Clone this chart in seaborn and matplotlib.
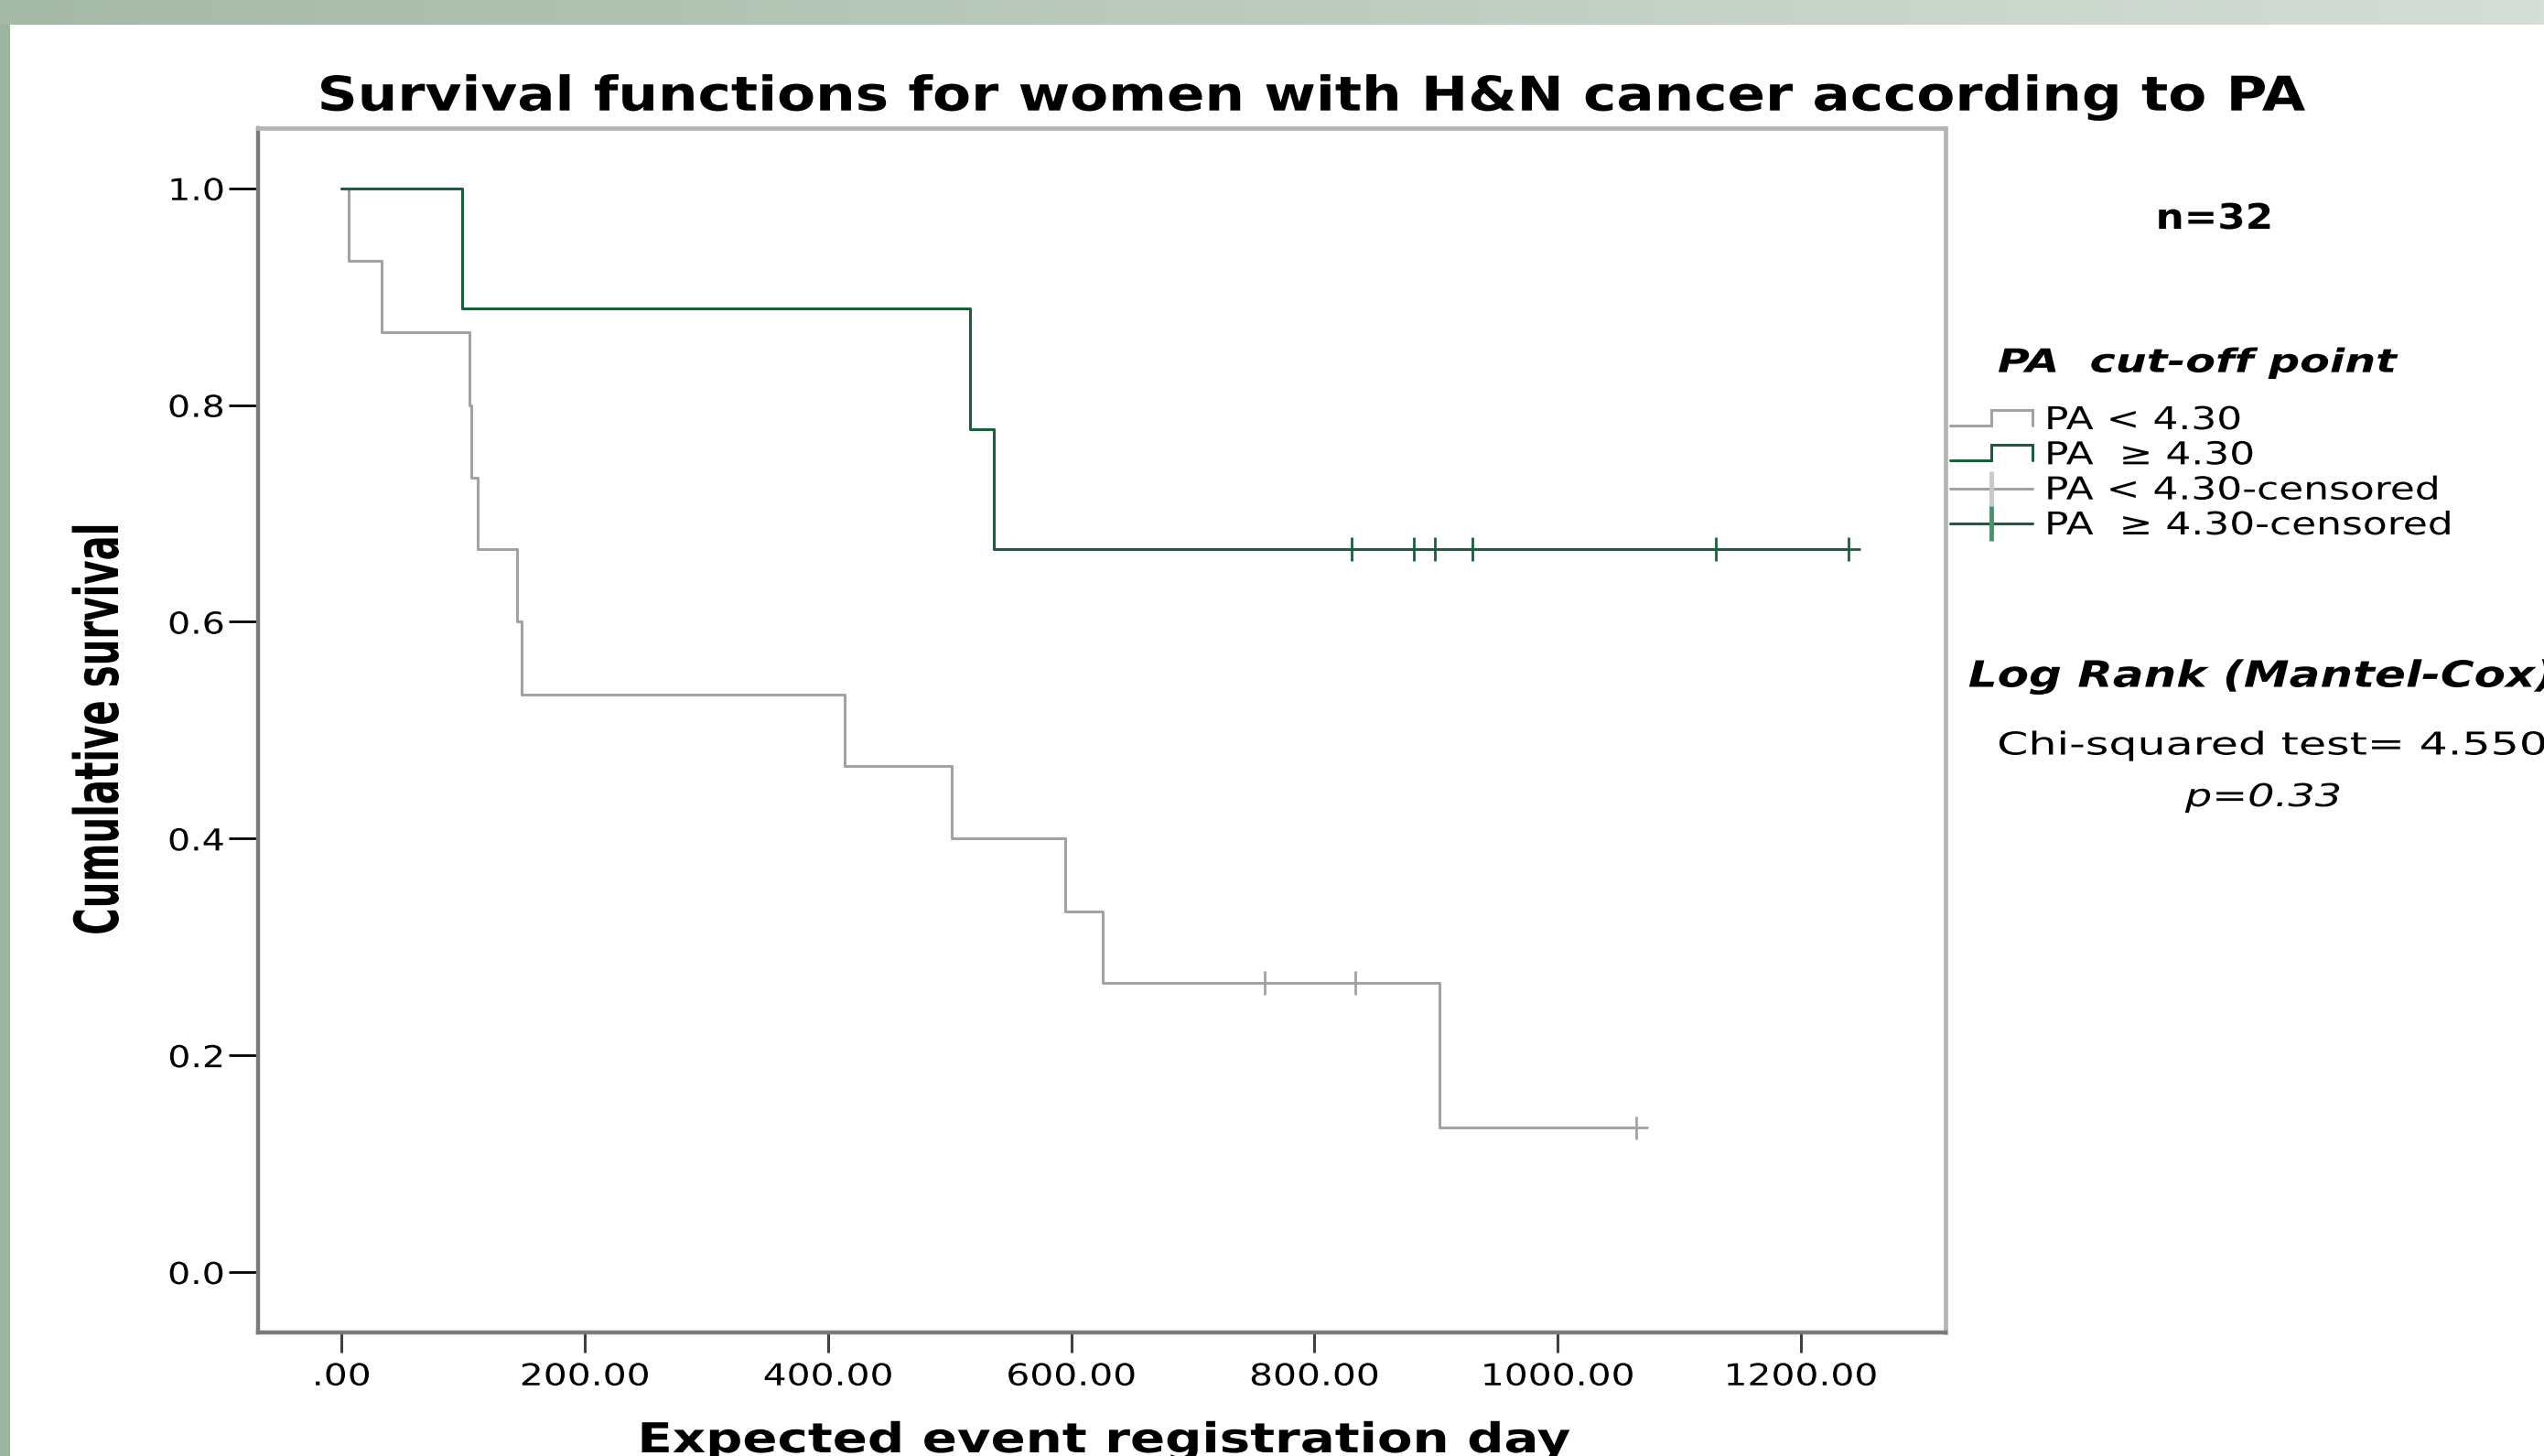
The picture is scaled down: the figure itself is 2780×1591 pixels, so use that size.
import numpy as np
import pandas as pd
import matplotlib
matplotlib.use("Agg")
import matplotlib.pyplot as plt
import matplotlib.patheffects as pe
from matplotlib.transforms import Affine2D
from matplotlib.lines import Line2D
from matplotlib.legend_handler import HandlerBase
from matplotlib.patches import Rectangle
import seaborn as sns

# Kaplan-Meier steps: day of each drop and survival after it
low_days = [0, 6, 33, 105, 107, 112, 144, 148, 414, 502, 595, 626, 903, 1065]
low_surv = [1.0, 0.933, 0.867, 0.800, 0.733, 0.667, 0.600, 0.533, 0.467, 0.400,
            0.333, 0.267, 0.133, 0.133]
high_days = [0, 99, 517, 536, 1239]
high_surv = [1.0, 0.889, 0.778, 0.667, 0.667]

# censored cases
low_cens_days = [759, 834, 1065]
low_cens_surv = [0.267, 0.267, 0.133]
high_cens_days = [831, 882, 899, 930, 1130, 1239]
high_cens_surv = [0.667, 0.667, 0.667, 0.667, 0.667, 0.667]

groups = ["PA < 4.30", "PA  \u2265 4.30"]
legend_labels = ["PA < 4.30", "PA  \u2265 4.30",
                 "PA < 4.30-censored", "PA  \u2265 4.30-censored"]
x_ticks = [0, 200, 400, 600, 800, 1000, 1200]
x_tick_labels = [".00", "200.00", "400.00", "600.00", "800.00", "1000.00", "1200.00"]
y_ticks = [0.0, 0.2, 0.4, 0.6, 0.8, 1.0]
y_tick_labels = ["0.0", "0.2", "0.4", "0.6", "0.8", "1.0"]

GRAY = "#a2a2a2"
GREEN = "#17603b"
palette = {groups[0]: GRAY, groups[1]: GREEN}

W, H = 2780, 1591


class Stretch(pe.AbstractPathEffect):
    """Scale the glyphs of a text in its own frame (the source image is stretched)."""

    def __init__(self, sx=1.0, sy=1.0, anchor="center"):
        super().__init__()
        self.sx, self.sy, self.anchor = sx, sy, anchor

    def draw_path(self, renderer, gc, tpath, affine, rgbFace=None):
        ext = tpath.get_extents()
        x0 = {"left": ext.x0, "center": (ext.x0 + ext.x1) / 2, "right": ext.x1}[self.anchor]
        t = Affine2D().translate(-x0, 0).scale(self.sx, self.sy).translate(x0, 0) + affine
        renderer.draw_path(gc, tpath, t, rgbFace)


class StepHandler(HandlerBase):
    def create_artists(self, legend, orig_handle, xdescent, ydescent,
                       width, height, fontsize, trans):
        mid = (height - ydescent) / 2
        lo, hi = mid - 0.22 * fontsize, mid + 0.26 * fontsize
        x0 = -xdescent
        xs = [x0, x0 + 0.5 * width, x0 + 0.5 * width, x0 + width, x0 + width]
        ys = [lo, lo, hi, hi, lo]
        line = Line2D(xs, ys, color=orig_handle.get_color(),
                      lw=orig_handle.get_linewidth(), solid_joinstyle="miter")
        line.set_transform(trans)
        return [line]


sns.set_style("white")
plt.rcParams["font.family"] = ["DejaVu Sans"]
plt.rcParams["text.color"] = "black"
plt.rcParams["axes.labelcolor"] = "black"
plt.rcParams["xtick.labelcolor"] = "black"
plt.rcParams["ytick.labelcolor"] = "black"

fig = plt.figure(figsize=(W / 100, H / 100), dpi=100, facecolor="white")

# slide background bands
band = fig.add_axes([0, 1 - 27 / H, 1, 27 / H])
grad = np.linspace(0, 1, 256)[None, :]
band.imshow(grad, aspect="auto",
            cmap=matplotlib.colors.LinearSegmentedColormap.from_list("b", ["#a5b9a7", "#d5ded7"]))
band.set_axis_off()
fig.patches.append(Rectangle((0, 0), 11 / W, 1 - 27 / H, transform=fig.transFigure,
                             facecolor="#9cb59f", edgecolor="none"))

ax = fig.add_axes([282 / W, (H - 1455.5) / H, (2126 - 282) / W, (1455.5 - 140) / H])
ax.set_facecolor("white")

curve_df = pd.concat([
    pd.DataFrame({"day": low_days, "survival": low_surv, "group": groups[0]}),
    pd.DataFrame({"day": high_days, "survival": high_surv, "group": groups[1]}),
], ignore_index=True)
cens_df = pd.concat([
    pd.DataFrame({"day": low_cens_days, "survival": low_cens_surv, "group": groups[0]}),
    pd.DataFrame({"day": high_cens_days, "survival": high_cens_surv, "group": groups[1]}),
], ignore_index=True)

sns.lineplot(data=curve_df, x="day", y="survival", hue="group", hue_order=groups,
             palette=palette, estimator=None, drawstyle="steps-post",
             linewidth=2.2, legend=False, ax=ax)
sns.scatterplot(data=cens_df, x="day", y="survival", hue="group", hue_order=groups,
                palette=palette, marker="+", s=350, linewidth=2.0, legend=False,
                ax=ax, zorder=3)

ax.set_xlim(-68.71, 1319.06)
ax.set_ylim(-0.0553, 1.0555)
ax.set_xticks(x_ticks, x_tick_labels)
ax.set_yticks(y_ticks, y_tick_labels)
ax.tick_params(axis="y", direction="out", length=22.9, width=2.0, color="black",
               pad=3.6, labelsize=23.7, labelcolor="black", left=True)
ax.tick_params(axis="x", direction="out", length=16, width=2.2, color="#404040",
               pad=7.2, labelsize=23.7, labelcolor="black", bottom=True)
for lab in ax.get_xticklabels():
    lab.set_path_effects([Stretch(1.24)])
for lab in ax.get_yticklabels():
    lab.set_path_effects([Stretch(1.2, anchor="right")])

for side in ["left", "bottom"]:
    ax.spines[side].set_color("#7a7a7a")
    ax.spines[side].set_linewidth(3.2)
for side in ["top", "right"]:
    ax.spines[side].set_color("#b5b5b5")
    ax.spines[side].set_linewidth(3.4)

ax.set_xlabel("Expected event registration day", fontsize=32.4, fontweight="bold")
ax.xaxis.label.set_va("baseline")
ax.xaxis.set_label_coords((1206 - 282) / 1844, (1455.5 - 1587) / 1315.5)
ax.xaxis.label.set_path_effects([Stretch(1.25)])

ax.set_ylabel("Cumulative survival", fontsize=29, fontweight="bold")
ax.yaxis.label.set_va("baseline")
ax.yaxis.set_label_coords((129 - 282) / 1844, (1455.5 - 797) / 1315.5)
ax.yaxis.label.set_path_effects([Stretch(1.0, 1.65)])

# legend
handles = [Line2D([], [], color=GRAY, lw=2.2),
           Line2D([], [], color=GREEN, lw=2.2),
           Line2D([], [], color=GRAY, lw=2.2, marker="|", ms=27, mew=3.5, mec="#c8c8c8"),
           Line2D([], [], color=GREEN, lw=2.2, marker="|", ms=27, mew=3.5, mec="#4f8f6a")]
leg = ax.legend(handles, legend_labels, loc="upper left",
                bbox_to_anchor=(2131 / W, 1 - 443 / H), bbox_transform=fig.transFigure,
                frameon=False, borderpad=0, borderaxespad=0, fontsize=24.7,
                handlelength=2.62, handletextpad=0.41, labelspacing=0.155, numpoints=1,
                labelcolor="black",
                handler_map={handles[0]: StepHandler(), handles[1]: StepHandler()})
for t in leg.get_texts():
    t.set_path_effects([Stretch(1.28, anchor="left")])

# texts
def ftext(x, y, s, size, sx, ha="center", **kw):
    t = fig.text(x / W, 1 - y / H, s, fontsize=size, ha=ha, va="baseline",
                 color="black", **kw)
    t.set_path_effects([Stretch(sx, anchor=ha)])
    return t

ftext(1434, 120.7, "Survival functions for women with H&N cancer according to PA",
      37.5, 1.175, fontweight="bold")
ftext(2420, 250, "n=32", 27.6, 1.14, fontweight="bold")
ftext(2401, 406.6, "PA  cut-off point", 25.6, 1.34, fontweight="bold", fontstyle="italic")
ftext(2151, 750.5, "Log Rank (Mantel-Cox)", 28.6, 1.26, ha="left",
      fontweight="bold", fontstyle="italic")
ftext(2183, 824.5, "Chi-squared test= 4.550", 24.7, 1.43, ha="left")
ftext(2473, 881, "p=0.33", 24.7, 1.35, fontstyle="italic")

fig.savefig("out.png", dpi=100, facecolor="white")
